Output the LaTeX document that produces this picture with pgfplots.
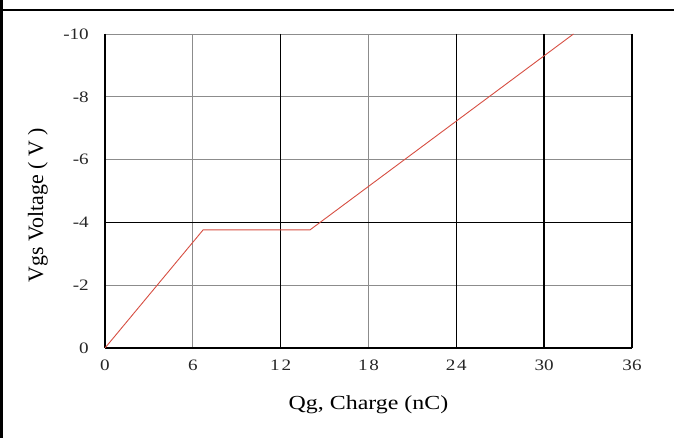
\documentclass[border=0pt]{standalone}
\usepackage{pgfplots}
\pgfplotsset{compat=1.18}
\usepackage{fontspec}
\setmainfont{Liberation Serif}
\definecolor{curve}{RGB}{214,78,66}
\definecolor{gridgray}{RGB}{140,140,140}
\newcommand\sx[1]{\scalebox{1.2}[1]{#1}}
\begin{document}
\begin{tikzpicture}[x=1bp,y=1bp]
\useasboundingbox (0,0) rectangle (674,438);
\draw[line width=3bp] (1.5,0) -- (1.5,438);
\draw[line width=2.5bp] (0,428) -- (674,428);
\begin{axis}[at={(105bp,90bp)}, anchor=south west, scale only axis,
  width=527bp, height=314bp,
  xmin=0, xmax=36, ymin=-10, ymax=0, y dir=reverse,
  xtick={0,6,12,18,24,30,36},
  xticklabels={\sx{0},\sx{6},\sx{1\kern1.5bp2},\sx{1\kern1.5bp8},\sx{2\kern1.5bp4},\sx{30},\sx{36}},
  ytick={0,-2,-4,-6,-8,-10},
  yticklabels={\sx{0},\sx{-2},\sx{-4},\sx{-6},\sx{-8},\sx{-10}},
  major tick length=0pt,
  grid=major,
  major grid style={gridgray, line width=0.9bp},
  extra x ticks={0,12,24,30,36},
  extra x tick labels={},
  extra x tick style={grid=major, major grid style={black, line width=1.6bp}},
  extra y ticks={0,-4},
  extra y tick labels={},
  extra y tick style={grid=major, major grid style={black, line width=1.6bp}},
  axis line style={draw=none},
  tick label style={font=\fontsize{16}{16}\selectfont, inner sep=0pt, text=black!85},
  xticklabel style={anchor=north, yshift=-12bp},
  yticklabel style={anchor=east, xshift=-16bp},
  clip=false,
]
\addplot[curve, line width=0.9bp] coordinates {(0,0) (6.7,-3.76) (14.0,-3.76) (32.0,-10)};
\end{axis}
\node[font=\fontsize{20}{20}\selectfont] at (368.5,33) {\sx{Qg, Charge (nC)}};
\node[font=\fontsize{20}{20}\selectfont, rotate=90] at (38,233) {\scalebox{1.1}[1.1]{Vgs Voltage ( V )}};
\end{tikzpicture}
\end{document}
